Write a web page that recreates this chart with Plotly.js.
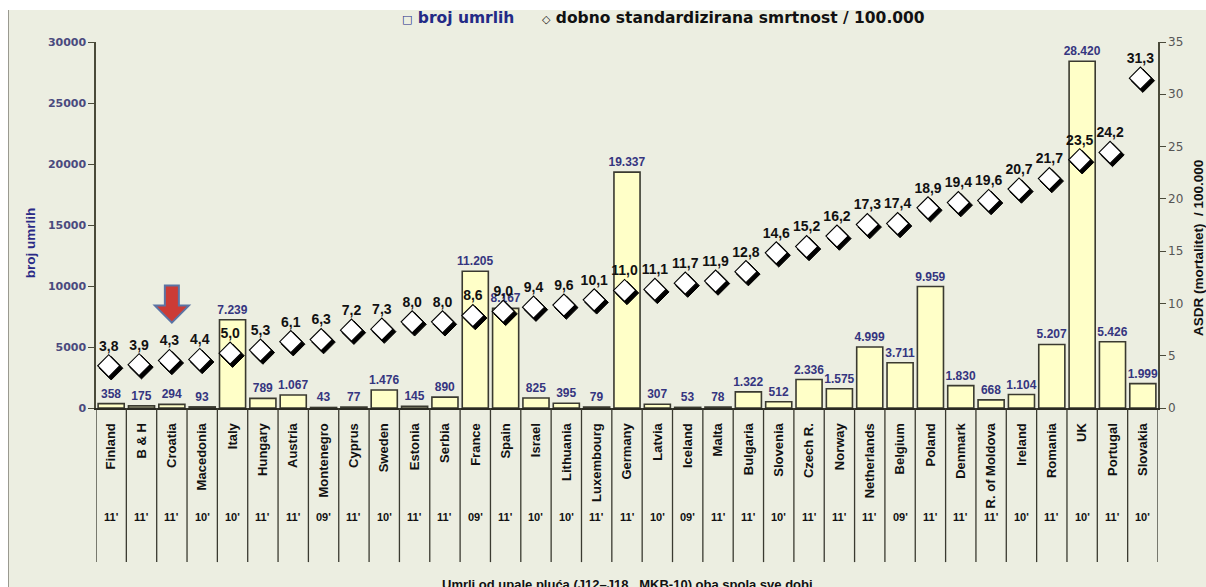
<!DOCTYPE html>
<html>
<head>
<meta charset="utf-8">
<script src="https://cdn.plot.ly/plotly-3.0.1.min.js"></script>
<style>
  html, body { margin:0; padding:0; background:#ffffff; width:1206px; height:587px; overflow:hidden; }
  #chart { position:absolute; left:8px; top:10px; width:1198px; height:577px; border-left:1px solid #9a9a90; box-sizing:border-box; }
</style>
</head>
<body>
<div id="chart"></div>
<script>
const countries = ["Finland","B & H","Croatia","Macedonia","Italy","Hungary","Austria","Montenegro","Cyprus","Sweden","Estonia","Serbia","France","Spain","Israel","Lithuania","Luxembourg","Germany","Latvia","Iceland","Malta","Bulgaria","Slovenia","Czech R.","Norway","Netherlands","Belgium","Poland","Denmark","R. of Moldova","Ireland","Romania","UK","Portugal","Slovakia"];
const deaths = [358,175,294,93,7239,789,1067,43,77,1476,145,890,11205,8167,825,395,79,19337,307,53,78,1322,512,2336,1575,4999,3711,9959,1830,668,1104,5207,28420,5426,1999];
const asdr = [3.8,3.9,4.3,4.4,5.0,5.3,6.1,6.3,7.2,7.3,8.0,8.0,8.6,9.0,9.4,9.6,10.1,11.0,11.1,11.7,11.9,12.8,14.6,15.2,16.2,17.3,17.4,18.9,19.4,19.6,20.7,21.7,23.5,24.2,31.3];
const years = ["11'","11'","11'","10'","10'","11'","11'","09'","11'","10'","11'","11'","09'","11'","10'","10'","11'","11'","10'","09'","11'","11'","10'","11'","11'","11'","09'","11'","11'","11'","10'","11'","10'","11'","10'"];
const markedCountry = "Croatia";
const legendDeaths = "broj umrlih";
const legendAsdr = "dobno standardizirana smrtnost / 100.000";

const FONT = "Arial, 'Liberation Sans', sans-serif";
const WIDE = "'DejaVu Sans', Verdana, sans-serif";
const BLUE = "#35357f";
const N = countries.length;

const traces = [
  {
    type: "bar", x: countries, y: deaths, name: legendDeaths,
    marker: { color: "#FFFFC8", line: { color: "#3a3a30", width: 1.6 } },
    texttemplate: "%{y:,}", textposition: "outside", constraintext: "none", cliponaxis: false,
    textfont: { family: FONT, size: 12, color: BLUE, weight: "bold" }
  },
  { // dark bevel of the diamonds
    type: "scatter", mode: "markers", x: countries, y: asdr, yaxis: "y2",
    name: legendAsdr + " (sjena)", showlegend: false,
    marker: { symbol: "diamond", size: 18, color: "#000000", line: { color: "#000000", width: 1 } }
  },
  { // white face of the diamonds, drawn on slightly shifted scales
    type: "scatter", mode: "markers+text", x: countries, y: asdr, xaxis: "x2", yaxis: "y3",
    name: legendAsdr,
    marker: { symbol: "diamond", size: 17, color: "#ffffff", line: { color: "#000000", width: 1.1 } },
    texttemplate: "%{y:.1f}", textposition: "top center", cliponaxis: false,
    textfont: { family: FONT, size: 14, color: "#111111", weight: "bold" }
  }
];

const shapes = [];
for (let i = 0; i <= N; i++) {
  shapes.push({ type: "line", xref: "x", yref: "paper", x0: i - 0.5, x1: i - 0.5, y0: 0, y1: -0.421,
                line: { color: "#3a3a30", width: 1.3 } });
}
const ci = countries.indexOf(markedCountry);
shapes.push({
  type: "path", xref: "x", yref: "y", xsizemode: "pixel", ysizemode: "pixel",
  xanchor: ci, yanchor: 7000,
  path: "M -7 37 L 7 37 L 7 17 L 17 17 L 0 0 L -17 17 L -7 17 Z",
  fillcolor: "#cc3b35", line: { color: "#5b74a4", width: 2 }
});

const annotations = [];
countries.forEach((c, i) => {
  annotations.push({ x: c, xref: "x", y: 0, yref: "paper", yshift: -109, yanchor: "middle", text: years[i],
                     showarrow: false, font: { family: FONT, size: 11, color: "#111", weight: "bold" } });
});
annotations.push({ x: 0.5, xref: "paper", y: 0, yref: "paper", yshift: -176, yanchor: "middle",
                   text: "Umrli od upale pluća (J12–J18,  MKB-10) oba spola sve dobi", showarrow: false,
                   font: { family: FONT, size: 13, color: "#111", weight: "bold" } });
// legend row
annotations.push({ x: 0.286, xref: "paper", xanchor: "left", y: 1, yref: "paper", yshift: 24, yanchor: "middle",
                   text: '<span style="font-size:11px">□</span> ' + legendDeaths, showarrow: false,
                   font: { family: WIDE, size: 15.5, color: "#232a86", weight: "bold" } });
annotations.push({ x: 0.418, xref: "paper", xanchor: "left", y: 1, yref: "paper", yshift: 24, yanchor: "middle",
                   text: '<span style="font-size:11px">◇</span> ' + legendAsdr, showarrow: false,
                   font: { family: WIDE, size: 15.5, color: "#111", weight: "bold" } });
// axis titles
annotations.push({ x: -0.061, xref: "paper", xanchor: "center", y: 0.451, yref: "paper", textangle: -90, showarrow: false,
                   text: "broj umrlih", font: { family: FONT, size: 13.5, color: "#2a2a86", weight: "bold" } });
annotations.push({ x: 1.0377, xref: "paper", xanchor: "center", y: 0.437, yref: "paper", textangle: -90, showarrow: false,
                   text: "ASDR (mortalitet)  / 100.000", font: { family: FONT, size: 13.5, color: "#111", weight: "bold" } });

const layout = {
  width: 1198, height: 577,
  margin: { l: 87, r: 49, t: 32, b: 179 },
  paper_bgcolor: "#ECEEE1", plot_bgcolor: "#ECEEE1",
  separators: ",.",
  showlegend: false,
  bargap: 0.14,
  xaxis: {
    type: "category", range: [-0.5, N - 0.5],
    tickangle: -90, ticks: "", ticklabelstandoff: 8,
    tickfont: { family: FONT, size: 13, color: "#111", weight: "bold" },
    showline: true, linecolor: "#2a2a22", linewidth: 2, showgrid: false, zeroline: false
  },
  xaxis2: { type: "category", overlaying: "x", range: [-0.5 + 0.08, N - 0.5 + 0.08], visible: false },
  yaxis: {
    range: [0, 30000], dtick: 5000, tickformat: "d", showgrid: false, zeroline: false,
    showline: true, linecolor: "#4a4a3a", linewidth: 1.6, ticks: "outside", ticklen: 6, tickcolor: "#4a4a3a",
    tickfont: { family: WIDE, size: 11, color: "#4a4a7e", weight: "bold" }
  },
  yaxis2: {
    overlaying: "y", side: "right", range: [0, 35], dtick: 5, showgrid: false, zeroline: false,
    showline: true, linecolor: "#4a4a3a", linewidth: 1.6, ticks: "outside", ticklen: 6, tickcolor: "#4a4a3a",
    tickfont: { family: WIDE, size: 12, color: "#555" }
  },
  yaxis3: { overlaying: "y", range: [-0.24, 35 - 0.24], visible: false },
  shapes: shapes,
  annotations: annotations
};

Plotly.newPlot("chart", traces, layout, { displayModeBar: false, staticPlot: true });
</script>
</body>
</html>
